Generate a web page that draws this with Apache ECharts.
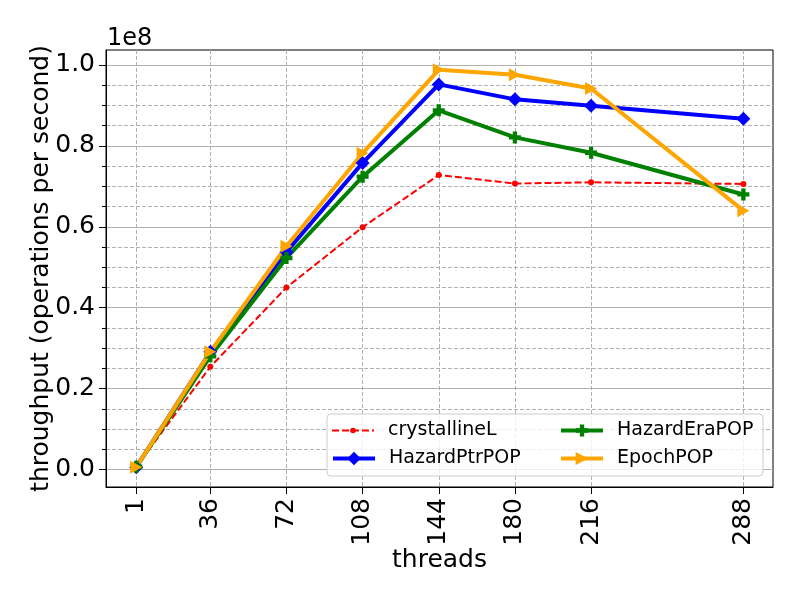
<!DOCTYPE html>
<html>
  <head>
    <meta charset="utf-8" />
    <title>ECharts</title>
    <script src="https://cdn.jsdelivr.net/npm/echarts@6/dist/echarts.min.js"></script>
    <style>
      body { margin: 0; background: #fff; }
    </style>
  </head>
  <body>
    <div id="main" style="width: 800px; height: 600px"></div>
  </body>

  <script>
    // 数据 (单位 1e8 ops/s)
    var threads = [1, 36, 72, 108, 144, 180, 216, 288];
    var crystallineL = [0.007, 0.254, 0.450, 0.599, 0.728, 0.707, 0.710, 0.706];
    var hazardPtrPOP = [0.006, 0.291, 0.538, 0.758, 0.952, 0.915, 0.899, 0.867];
    var hazardEraPOP = [0.007, 0.280, 0.523, 0.724, 0.888, 0.821, 0.783, 0.680];
    var epochPOP = [0.006, 0.291, 0.552, 0.782, 0.988, 0.976, 0.942, 0.640];

    var yTicks = [0, 0.2, 0.4, 0.6, 0.8, 1.0];
    var yMinorTicks = [0.05, 0.1, 0.15, 0.25, 0.3, 0.35, 0.45, 0.5, 0.55,
      0.65, 0.7, 0.75, 0.85, 0.9, 0.95];

    var font = "DejaVu Sans";

    function pairs(ys) {
      return threads.map(function (t, i) {
        return [t, ys[i]];
      });
    }

    // 每个图例单独一个组件，这样图例里的标记大小、线宽可以分别设置
    function legendItem(name, left, top, itemHeight, lineWidth) {
      return {
        orient: "vertical",
        left: left,
        top: top,
        z: 5,
        itemWidth: 42,
        itemHeight: itemHeight,
        lineStyle: { width: lineWidth },
        data: [name],
        textStyle: { fontSize: 19, fontFamily: font, color: "#000", padding: [0, 0, 0, 9] },
      };
    }

    var myChart = echarts.init(document.getElementById("main"));

    var option = {
      backgroundColor: "#fff",
      animation: false,
      textStyle: { fontFamily: font },
      grid: {
        left: 106,
        right: 27,
        top: 50,
        bottom: 113,
        show: true,
        borderColor: "#000",
        borderWidth: 1,
        backgroundColor: "transparent",
      },
      graphic: [
        {
          type: "text",
          left: 107,
          top: 27,
          style: { text: "1e8", font: "24px DejaVu Sans", fill: "#000" },
        },
        {
          type: "rect",
          z: 3,
          shape: { x: 327, y: 414, width: 436, height: 62, r: 4 },
          style: { fill: "rgba(255,255,255,0.8)", stroke: "#cccccc", lineWidth: 1 },
        },
      ],
      legend: [
        legendItem("crystallineL", 326, 416, 7, 2),
        legendItem("HazardPtrPOP", 326, 444, 17, 4),
        legendItem("HazardEraPOP", 554, 416, 15, 4),
        legendItem("EpochPOP", 554, 444, 16, 4),
      ],
      xAxis: {
        type: "value",
        min: -13.3,
        max: 302,
        name: "threads",
        nameLocation: "middle",
        nameGap: 61,
        nameMoveOverlap: false,
        nameTextStyle: { fontSize: 25, fontFamily: font, color: "#000" },
        axisLine: { show: true, onZero: false, lineStyle: { color: "#000", width: 1 } },
        axisTick: { show: true, length: 7, lineStyle: { color: "#000" }, customValues: threads },
        axisLabel: {
          customValues: threads,
          rotate: 90,
          margin: 11,
          fontSize: 25,
          fontFamily: font,
          color: "#000",
        },
        splitLine: {
          show: true,
          lineStyle: { color: "#b0b0b0", width: 1, type: [4, 2] },
        },
      },
      yAxis: [
        {
          type: "value",
          min: -0.043,
          max: 1.037,
          name: "throughput (operations per second)",
          nameLocation: "middle",
          nameGap: 52,
          nameMoveOverlap: false,
          nameTextStyle: { fontSize: 25, fontFamily: font, color: "#000" },
          axisLine: { show: true, onZero: false, lineStyle: { color: "#000", width: 1 } },
          axisTick: { show: true, length: 7, lineStyle: { color: "#000" }, customValues: yTicks },
          axisLabel: {
            customValues: yTicks,
            margin: 11,
            fontSize: 25,
            fontFamily: font,
            color: "#000",
            formatter: function (v) {
              return v.toFixed(1);
            },
          },
          splitLine: { show: true, lineStyle: { color: "#b0b0b0", width: 1.1 } },
        },
        {
          type: "value",
          min: -0.043,
          max: 1.037,
          position: "left",
          axisLine: { show: false, onZero: false },
          axisTick: { show: true, length: 4, lineStyle: { color: "#000" }, customValues: yMinorTicks },
          axisLabel: { show: false, customValues: yMinorTicks },
          splitLine: { show: true, lineStyle: { color: "#b0b0b0", width: 1, type: [4, 2] } },
        },
      ],
      series: [
        {
          name: "crystallineL",
          type: "line",
          data: pairs(crystallineL),
          color: "#ff0000",
          symbol: "circle",
          symbolSize: 6,
          lineStyle: { width: 2, type: [7, 3] },
        },
        {
          name: "HazardPtrPOP",
          type: "line",
          data: pairs(hazardPtrPOP),
          color: "#0000ff",
          symbol: "path://M5,0 L10,5 L5,10 L0,5 Z",
          symbolSize: 14,
          lineStyle: { width: 4 },
        },
        {
          name: "HazardEraPOP",
          type: "line",
          data: pairs(hazardEraPOP),
          color: "#008000",
          symbol: "path://M3.2,0 H6.8 V3.2 H10 V6.8 H6.8 V10 H3.2 V6.8 H0 V3.2 H3.2 Z",
          symbolSize: 12,
          lineStyle: { width: 4 },
        },
        {
          name: "EpochPOP",
          type: "line",
          data: pairs(epochPOP),
          color: "#ffa500",
          symbol: "path://M0,0 L10,5 L0,10 Z",
          symbolSize: [12, 13],
          lineStyle: { width: 4 },
        },
      ],
    };

    myChart.setOption(option);
  </script>
</html>
